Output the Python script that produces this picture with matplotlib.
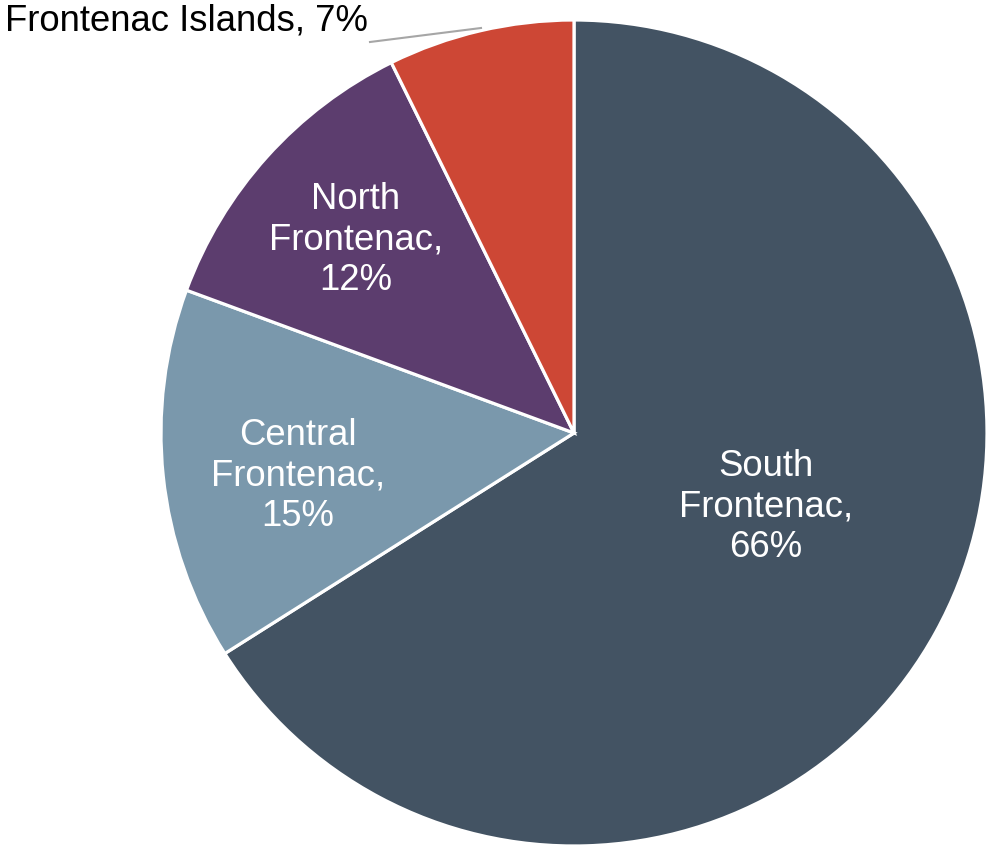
import matplotlib
matplotlib.use("Agg")
import matplotlib.pyplot as plt

plt.rcParams['font.family'] = ['Liberation Sans', 'DejaVu Sans']

categories = ["South\nFrontenac", "Central\nFrontenac", "North\nFrontenac", "Frontenac Islands"]
values = [66.1, 14.6, 12.1, 7.3]
pct_labels = ["66%", "15%", "12%", "7%"]
colors = ["#435363", "#7A98AC", "#5C3D6E", "#CD4735"]

W, H = 989, 847
fig = plt.figure(figsize=(W / 100, H / 100), dpi=100)
cx, cy, r = 574, 433, 413
ax = fig.add_axes([(cx - r) / W, (H - cy - r) / H, 2 * r / W, 2 * r / H])
wedges, _ = ax.pie(values, colors=colors, startangle=90, counterclock=False,
                   radius=1.0, wedgeprops=dict(edgecolor="white", linewidth=2.3))
ax.set_xlim(-1, 1)
ax.set_ylim(-1, 1)
ax.set_aspect("equal")
ax.axis("off")

def px(x, y):
    return ((x - cx) / r, (cy - y) / r)

fs = 26.3
inside_pos = [(766, 507), (298, 476), (356, 240)]
for i in range(3):
    x, y = px(*inside_pos[i])
    ax.text(x, y, f"{categories[i]},\n{pct_labels[i]}", ha="center", va="center",
            color="white", fontsize=fs, linespacing=1.22)

# Outside label for Frontenac Islands
tx, ty = px(5, 21)
ax.text(tx, ty, f"{categories[3]}, {pct_labels[3]}", ha="left", va="center",
        color="black", fontsize=fs, clip_on=False)
x0, y0 = px(370, 42)
x1, y1 = px(481, 28)
ax.plot([x0, x1], [y0, y1], color="#A6A6A6", linewidth=1.5, clip_on=False)

fig.savefig("out.png", dpi=100)
